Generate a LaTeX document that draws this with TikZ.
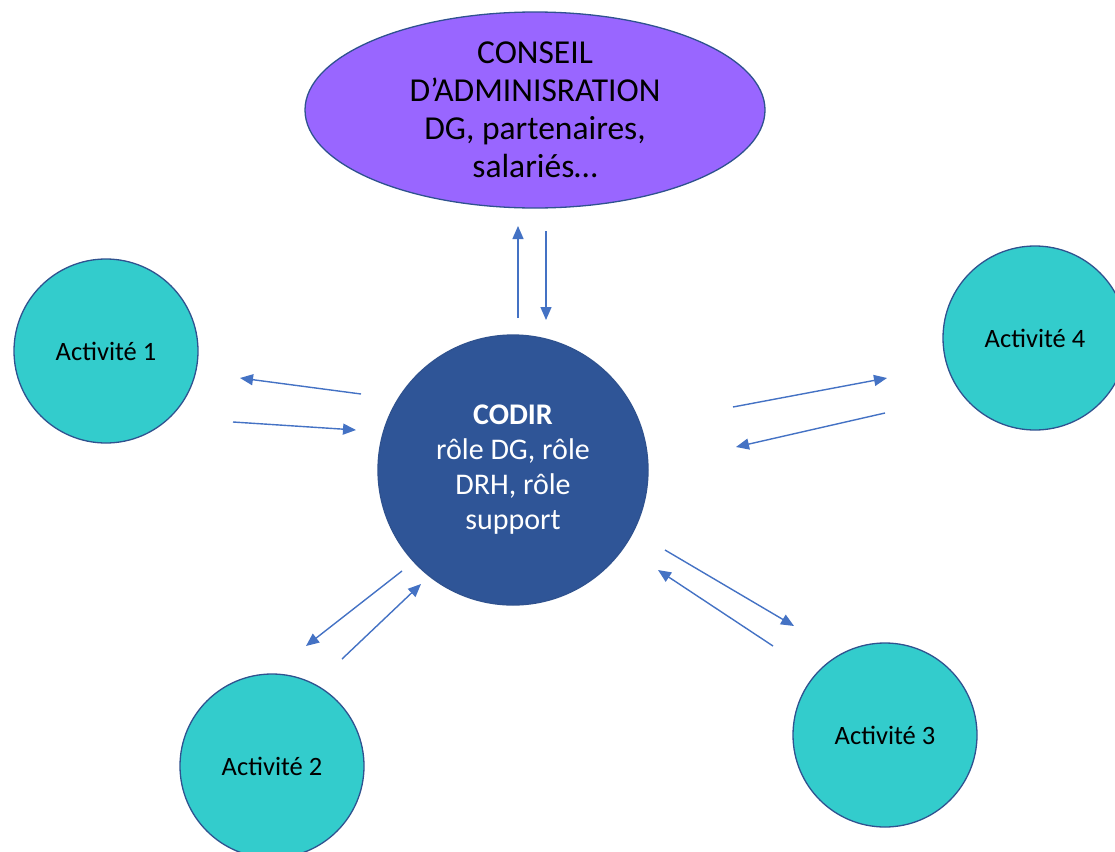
\documentclass[tikz,border=0pt]{standalone}
\usepackage{fontspec}
\setmainfont{Carlito}
\usetikzlibrary{arrows.meta,shapes.geometric}
\definecolor{boardfill}{HTML}{9966FF}
\definecolor{edgeblue}{HTML}{2F528F}
\definecolor{codirblue}{HTML}{2F5597}
\definecolor{actfill}{HTML}{33CCCC}
\definecolor{linkblue}{HTML}{4472C4}
\tikzset{
  board/.style={ellipse, draw=edgeblue, line width=1.3pt, fill=boardfill,
    minimum width=460pt, minimum height=196pt, inner sep=0pt, align=center,
    font=\fontsize{33.5}{38}\selectfont, text=black},
  codir/.style={circle, draw=edgeblue, line width=1.3pt, fill=codirblue,
    minimum size=270pt, inner sep=0pt, align=center,
    font=\fontsize{30}{35}\selectfont, text=white},
  activity/.style={circle, draw=edgeblue, line width=1.3pt, fill=actfill,
    minimum size=184pt, inner sep=0pt, align=center,
    font=\fontsize{26.5}{30}\selectfont, text=black},
  link/.style={draw=linkblue, line width=1.4pt,
    -{Triangle[length=13pt,width=11pt]}},
}
\begin{document}
\begin{tikzpicture}[x=1pt,y=-1pt]
\useasboundingbox (0,0) rectangle (1115,851);

% main bodies
\node[board] (ca) at (535,110) {CONSEIL\\D’ADMINISRATION\\DG, partenaires,\\salariés…};
\node[codir] (codir) at (513,470) {\textbf{CODIR}\\rôle DG, rôle\\DRH, rôle\\support};
\node[activity] (a1) at (106,351) {Activité 1};
\node[activity] (a4) at (1035,338) {Activité 4};
\node[activity] (a2) at (272,766) {Activité 2};
\node[activity] (a3) at (885,735) {Activité 3};

% arrow end points
\coordinate (up0) at (518,318);   \coordinate (up1) at (518,226);
\coordinate (dn0) at (546,231);   \coordinate (dn1) at (546,320);
\coordinate (l1a) at (361,394);   \coordinate (l1b) at (240,378);
\coordinate (l2a) at (233,422);   \coordinate (l2b) at (356,430);
\coordinate (r1a) at (733,407);   \coordinate (r1b) at (887,378);
\coordinate (r2a) at (885,413);   \coordinate (r2b) at (736,447);
\coordinate (d1a) at (402,571);   \coordinate (d1b) at (306,646);
\coordinate (d2a) at (342,659);   \coordinate (d2b) at (421,584);
\coordinate (e1a) at (665,550);   \coordinate (e1b) at (794,626);
\coordinate (e2a) at (773,646);   \coordinate (e2b) at (658,570);

% exchanges between the CODIR and the other bodies
\draw[link] (up0) -- (up1);
\draw[link] (dn0) -- (dn1);
\draw[link] (l1a) -- (l1b);
\draw[link] (l2a) -- (l2b);
\draw[link] (r1a) -- (r1b);
\draw[link] (r2a) -- (r2b);
\draw[link] (d1a) -- (d1b);
\draw[link] (d2a) -- (d2b);
\draw[link] (e1a) -- (e1b);
\draw[link] (e2a) -- (e2b);
\end{tikzpicture}
\end{document}
